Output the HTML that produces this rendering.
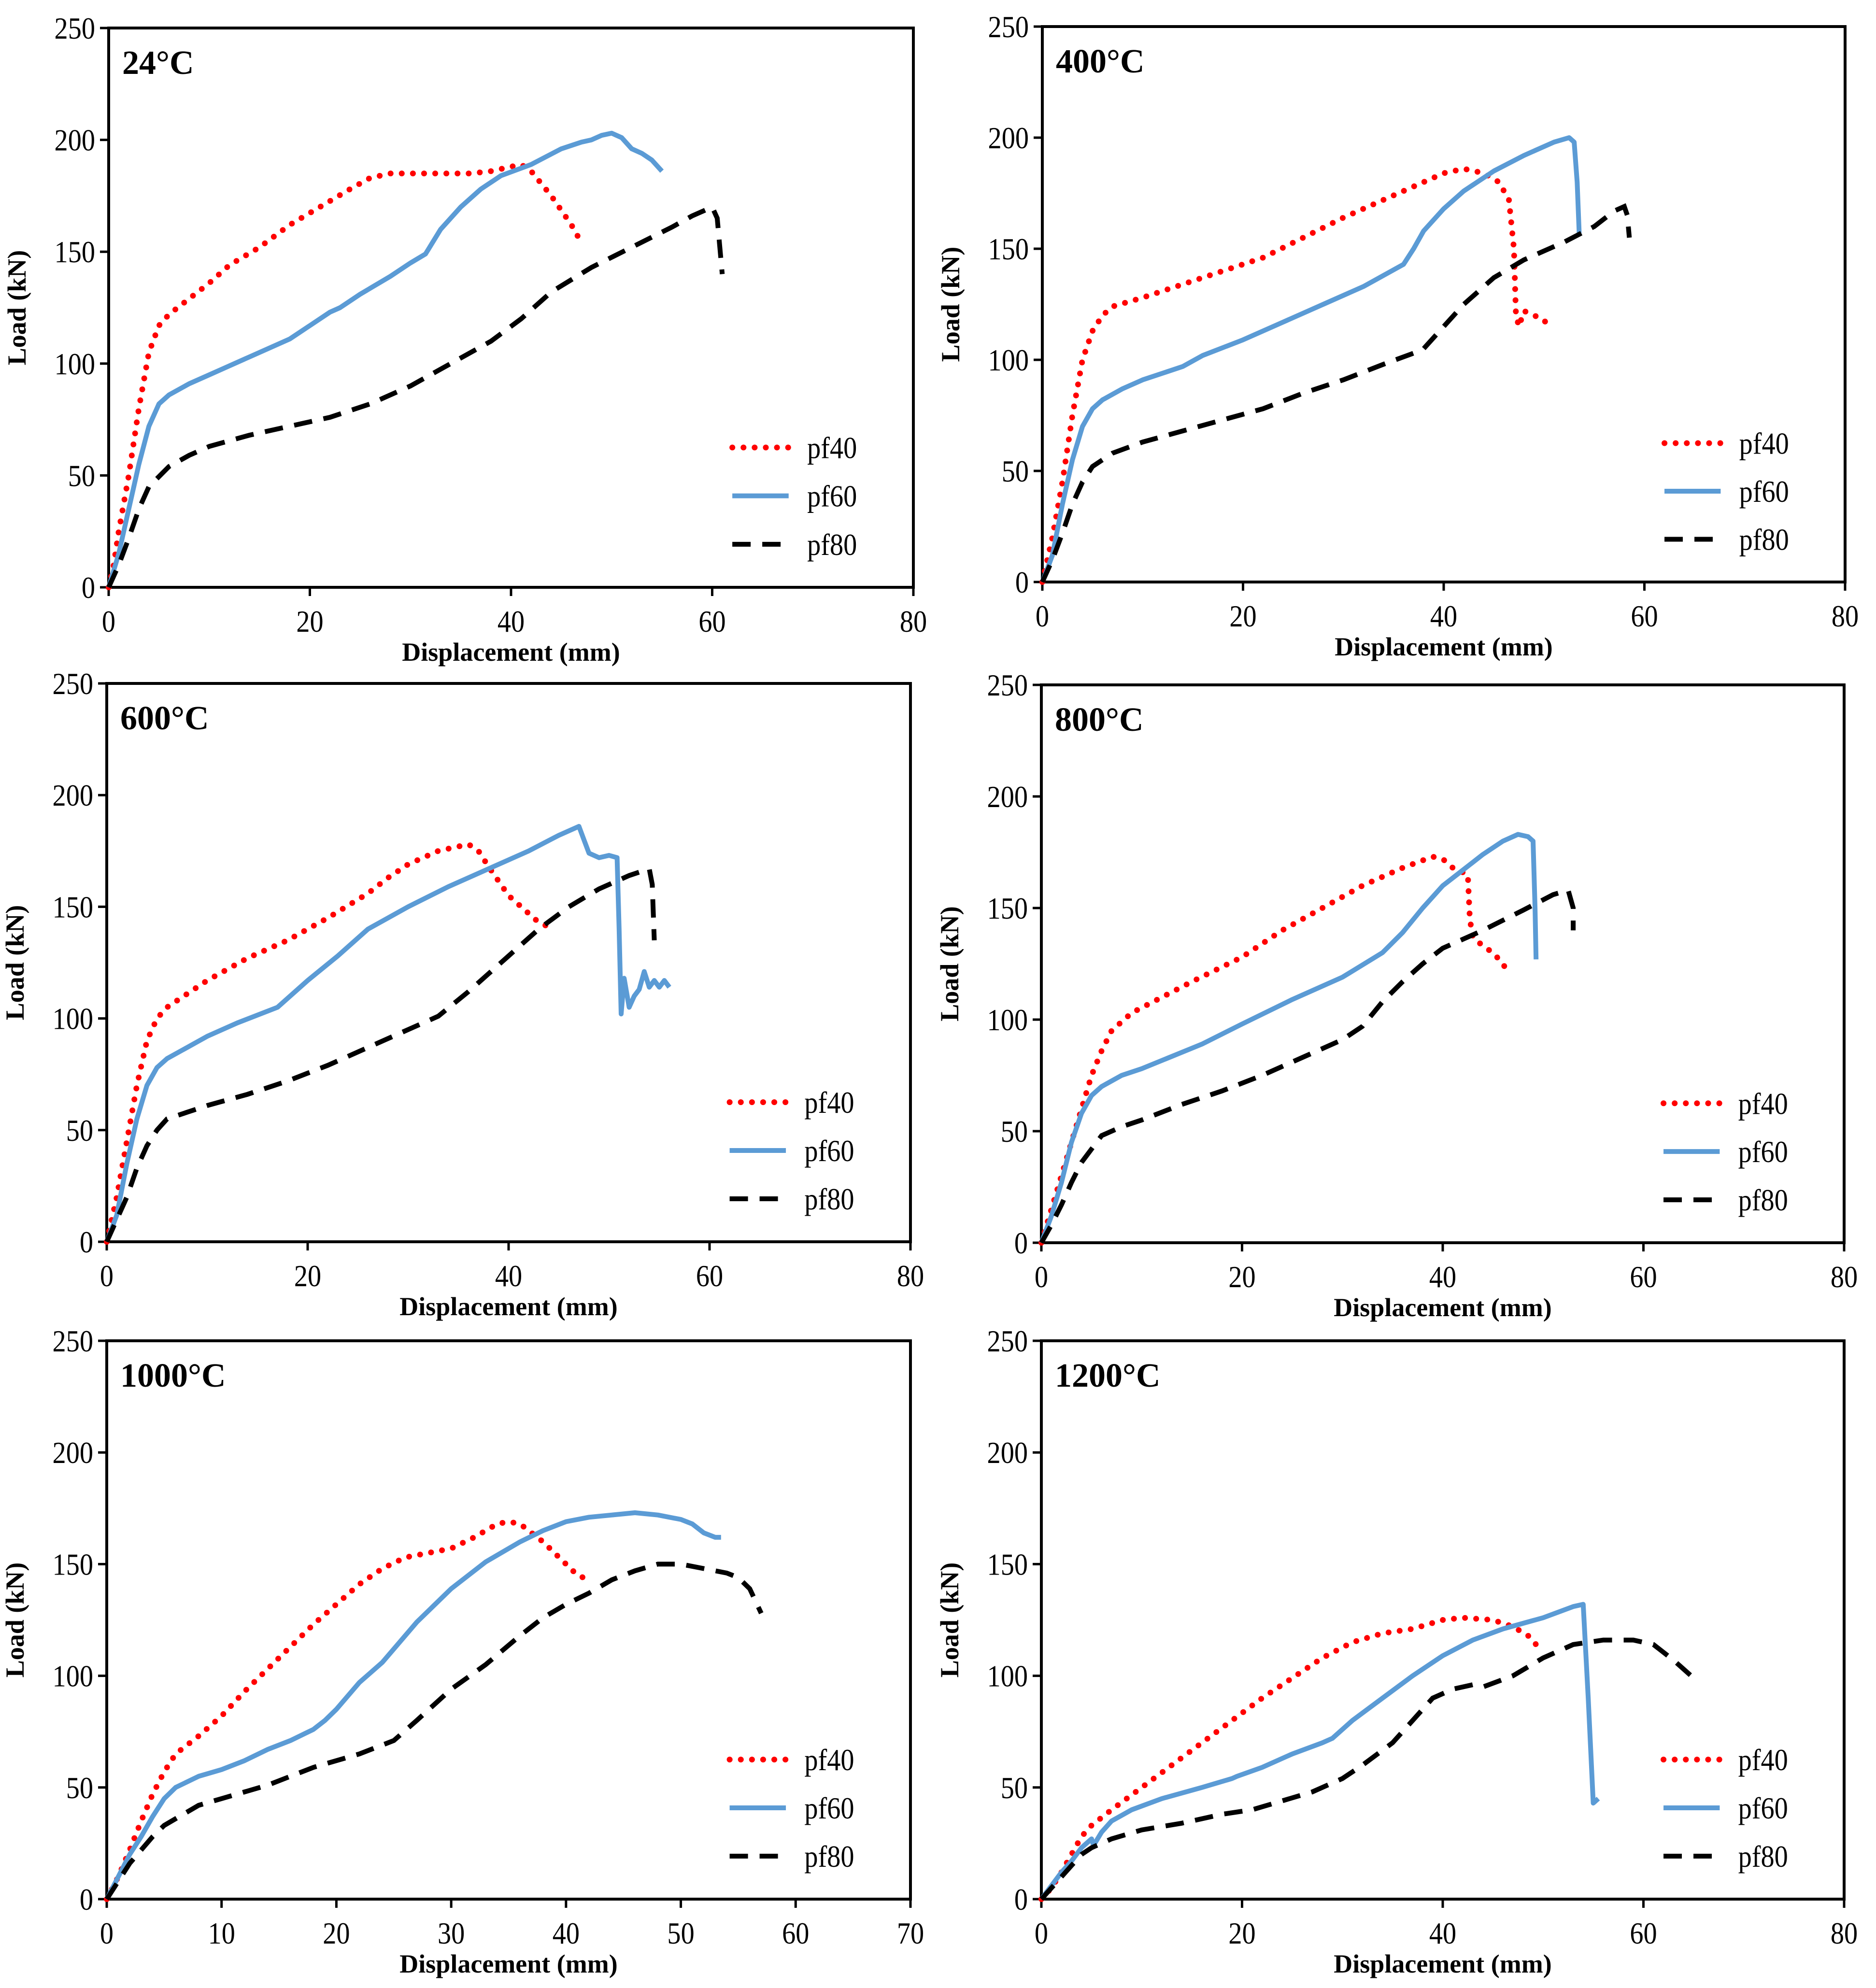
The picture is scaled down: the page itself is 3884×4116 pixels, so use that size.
<!DOCTYPE html>
<html><head><meta charset="utf-8"><style>html,body{margin:0;padding:0;background:#fff}svg{display:block}</style></head>
<body>
<svg id="fig" xmlns="http://www.w3.org/2000/svg" width="3884" height="4116" viewBox="0 0 3884 4116" font-family="'Liberation Serif', serif"></svg>
<script>
const panelTitles = ["24°C","400°C","600°C","800°C","1000°C","1200°C"];
const xMaxes = [80,80,80,80,70,80];
const xTickSteps = [20,20,20,20,10,20];
const yTicks = [0,50,100,150,200,250];
const seriesNames = ["pf40","pf60","pf80"];

const pf40_24 = [[0,0],[0.5,10],[1,25],[2,50],[3,80],[4,105],[5,117],[6,122],[8,129],[10,136],[12,144],[15,152],[18,162],[21,170],[24,178],[26,183],[28,185],[32,185],[36,185],[38,186],[40,188],[41,189],[42,186],[44,175],[46,162],[47,154]];
const pf60_24 = [[0,0],[1,15],[2,35],[3,55],[4,72],[5,82],[6,86],[8,91],[10,95],[14,103],[18,111],[20,117],[22,123],[23,125],[25,131],[28,139],[30,145],[31.5,149],[33,160],[35,170],[37,178],[39,184],[42,189],[45,196],[47,199],[48,200],[49,202],[50,203],[51,201],[52,196],[53,194],[54,191],[55,186]];
const pf80_24 = [[0,0],[1,10],[2,22],[3,35],[4,45],[6,54],[8,59],[10,63],[14,68],[18,72],[22,76],[26,82],[30,90],[34,100],[38,110],[41,120],[44,132],[48,143],[52,152],[56,161],[58,166],[60,170],[60.5,165],[61,140]];

const pf40_400 = [[0,0],[1,20],[2,45],[3,75],[4,100],[5,113],[6,120],[7,124],[10,128],[14,134],[18,140],[22,146],[26,155],[30,164],[34,172],[38,180],[40,184],[42,186],[44,184],[45.5,180],[46.5,172],[47,150],[47.2,120],[47.5,115],[48,122],[50,118],[50.5,114]];
const pf60_400 = [[0,0],[1,12],[2,35],[3,55],[4,70],[5,78],[6,82],[8,87],[10,91],[14,97],[16,102],[20,109],[24,117],[28,125],[32,133],[36,143],[37,150],[38,158],[40,168],[42,176],[45,185],[48,192],[51,198],[52.5,200],[53,198],[53.3,180],[53.5,157]];
const pf80_400 = [[0,0],[1,10],[2,22],[3,35],[4,45],[5,52],[7,58],[10,63],[14,68],[18,73],[22,78],[26,85],[30,91],[34,98],[37,103],[38,105],[40,115],[42,125],[45,137],[48,145],[52,153],[55,160],[57,167],[58,169],[58.3,165],[58.5,155]];

const pf40_600 = [[0,0],[1,20],[2,45],[3,70],[4,90],[5,100],[6,105],[8,111],[10,117],[14,127],[18,135],[22,145],[26,156],[28,163],[30,169],[33,175],[35,177],[36,178],[37,175],[38,168],[40,155],[42,147],[43,143],[44,141]];
const pf60_600 = [[0,0],[1,12],[2,35],[3,55],[4,70],[5,78],[6,82],[8,87],[10,92],[13,98],[17,105],[20,117],[23,128],[26,140],[30,150],[34,159],[38,167],[42,175],[45,182],[47,186],[47.5,180],[48,174],[49,172],[50,173],[50.8,172],[51,140],[51.2,102],[51.5,118],[52,105],[52.5,110],[53,113],[53.5,121],[54,114],[54.5,117],[55,114],[55.5,117],[56,114]];
const pf80_600 = [[0,0],[1,10],[2,20],[3,33],[4,43],[5,50],[6,55],[8,58],[10,61],[14,66],[18,72],[22,79],[26,87],[30,95],[33,101],[36,112],[40,128],[43,140],[46,150],[49,158],[52,164],[54,167],[54.3,160],[54.5,135]];

const pf40_800 = [[0,0],[1,15],[2,30],[3,45],[4,60],[5,75],[6,86],[7,95],[9,103],[12,110],[15,117],[20,128],[24,140],[28,150],[32,160],[36,168],[39,173],[40,172],[41,168],[42,166],[42.5,165],[42.7,145],[43,137],[44,133],[45,130],[46,125],[46.5,121]];
const pf60_800 = [[0,0],[1,12],[2,27],[3,45],[4,58],[5,66],[6,70],[8,75],[10,78],[16,89],[20,98],[25,109],[30,119],[34,130],[36,139],[38,150],[40,160],[42,167],[44,174],[46,180],[47.5,183],[48.5,182],[49,180],[49.2,150],[49.3,127]];
const pf80_800 = [[0,0],[1,8],[2,17],[3,27],[4,36],[5,42],[6,48],[8,52],[10,55],[14,62],[18,68],[22,75],[26,83],[30,91],[32,97],[34,108],[36,117],[38,125],[40,132],[44,140],[48,149],[51,156],[52.5,158],[53,150],[53,140]];

const pf40_1000 = [[0,0],[1,10],[2,22],[3,35],[4,47],[5,57],[6,65],[8,73],[10,82],[12,93],[14,103],[16,113],[18,123],[20,132],[22,141],[24,148],[26,153],[28,155],[30,157],[32,162],[34,168],[35,169],[36,168],[38,160],[40,150],[41,145],[42,143]];
const pf60_1000 = [[0,0],[1,10],[2,20],[3,28],[4,37],[5,45],[6,50],[8,55],[10,58],[12,62],[14,67],[16,71],[18,76],[19,80],[20,85],[22,97],[24,106],[25,112],[27,124],[30,139],[33,151],[36,160],[38,165],[40,169],[42,171],[44,172],[46,173],[48,172],[50,170],[51,168],[52,164],[53,162],[53.5,162]];
const pf80_1000 = [[0,0],[1,8],[2,16],[3,22],[4,28],[5,33],[6,36],[8,42],[10,45],[14,51],[18,59],[22,65],[25,71],[27,80],[30,94],[33,105],[36,118],[38,126],[40,132],[42,137],[44,143],[46,147],[48,150],[50,150],[52,148],[54,146],[55,144],[56,139],[57,128]];

const pf40_1200 = [[0,0],[1,5],[2,12],[3,20],[4,28],[5,33],[7,40],[10,50],[13,60],[16,70],[19,80],[22,90],[25,99],[28,108],[31,115],[34,119],[37,121],[40,125],[42,126],[45,125],[47,122],[48.5,118],[49.5,113]];
const pf60_1200 = [[0,0],[1,6],[2,12],[3,17],[4,23],[5,27],[5.2,24],[6,30],[7,35],[9,40],[12,45],[16,50],[19,54],[19.5,55],[22,59],[25,65],[28,70],[29,72],[31,80],[34,90],[37,100],[40,109],[43,116],[46,121],[50,126],[53,131],[54,132],[54.5,90],[55,43],[55.5,45]];
const pf80_1200 = [[0,0],[1,5],[2,10],[3,15],[4,20],[5,23],[7,27],[10,31],[14,34],[18,38],[21,40],[24,44],[27,48],[30,54],[32,60],[35,70],[37,80],[39,90],[41,94],[43,96],[44,95],[47,100],[50,108],[53,114],[56,116],[59,116],[61,114],[63,107],[65,99]];

const panelSeries = [[pf40_24,pf60_24,pf80_24],[pf40_400,pf60_400,pf80_400],[pf40_600,pf60_600,pf80_600],[pf40_800,pf60_800,pf80_800],[pf40_1000,pf60_1000,pf80_1000],[pf40_1200,pf60_1200,pf80_1200]];

const boxes = [[225,58,1891,1216],[2158,55,3820,1205],[221,1415,1885,2571],[2156,1418,3818,2573],[221,2776,1885,3932],[2156,2776,3818,3932]];
const NS = "http://www.w3.org/2000/svg";
const svg = document.getElementById('fig');
function mk(tag, attrs, parent){const e=document.createElementNS(NS,tag);for(const k in attrs)e.setAttribute(k,attrs[k]);(parent||svg).appendChild(e);return e;}
function condText(parent,x,y,anchor,size,str){
  const t=mk('text',{x:0,y:0,'text-anchor':anchor,'font-size':size,transform:`translate(${x} ${y}) scale(0.88 1)`},parent);
  t.textContent=str;return t;
}
const styles = [
 {stroke:'#ff0000','stroke-width':12,'stroke-dasharray':'0.1 23','stroke-linecap':'round',fill:'none'},
 {stroke:'#5b9bd5','stroke-width':10,fill:'none','stroke-linejoin':'round'},
 {stroke:'#000000','stroke-width':10,'stroke-dasharray':'38 24',fill:'none'}
];
boxes.forEach((b,i)=>{
  const [L,T,R,B]=b;
  const g=mk('g',{});
  
  
  const xs=v=>L+(R-L)*v/xMaxes[i];
  const ys=v=>B-(B-T)*v/250;
  const frame=mk('rect',{x:L,y:T,width:R-L,height:B-T,fill:'none',stroke:'#000','stroke-width':6},g);
  
  
  yTicks.forEach(v=>{
    mk('line',{x1:L-18,x2:L,y1:ys(v),y2:ys(v),stroke:'#000','stroke-width':5},g);
    const t=condText(g,L-28,ys(v)+22,'end',64,v);
    
    
  });
  for(let v=0;v<=xMaxes[i];v+=xTickSteps[i]){
    mk('line',{x1:xs(v),x2:xs(v),y1:B,y2:B+18,stroke:'#000','stroke-width':5},g);
    const t=condText(g,xs(v),B+92,'middle',64,v);
    
    
  }
  const xt=mk('text',{x:(L+R)/2,y:B+152,'text-anchor':'middle','font-size':54,'font-weight':'bold'},g);
  xt.textContent='Displacement (mm)';
  
  
  const yx=L-172, yy=(T+B)/2;
  const yt=mk('text',{x:yx,y:yy,'text-anchor':'middle','font-size':54,'font-weight':'bold',transform:`rotate(-90 ${yx} ${yy})`},g);
  yt.textContent='Load (kN)';
  
  
  const tt=mk('text',{x:L+28,y:T+95,'font-size':70,'font-weight':'bold'},g);
  tt.textContent=panelTitles[i];
  
  
  panelSeries[i].forEach((ser,k)=>{
    const d=ser.map((p,j)=>(j?'L':'M')+xs(p[0]).toFixed(1)+' '+ys(p[1]).toFixed(1)).join(' ');
    const p=mk('path',Object.assign({d:d},styles[k]),g);
    
    
    const ly=T+(B-T)*(0.75+k*0.0865);
    const lx1=L+(R-L)*0.775, lx2=L+(R-L)*0.845;
    const ll=mk('line',Object.assign({x1:lx1,x2:lx2,y1:ly,y2:ly},styles[k]),g);
    
    
    const lt=condText(g,L+(R-L)*0.868,ly+22,'start',64,seriesNames[k]);
    
    
  });
});
</script>
</body></html>
